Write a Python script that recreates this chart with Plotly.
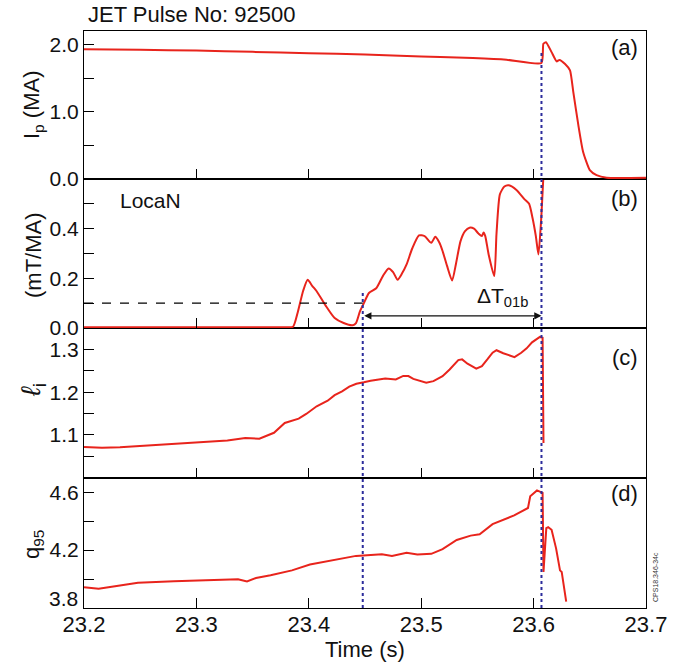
import plotly.graph_objects as go

# ---------------- data ----------------
t_ip = [23.2, 23.25, 23.3, 23.35, 23.4, 23.45, 23.5, 23.517, 23.546, 23.576, 23.607,
        23.6087, 23.611, 23.616, 23.6205, 23.623, 23.628, 23.6324, 23.6353, 23.6398,
        23.644, 23.650, 23.656, 23.665, 23.7]
ip = [1.93, 1.92, 1.91, 1.89, 1.87, 1.85, 1.82, 1.812, 1.797, 1.773, 1.724,
      2.01, 2.034, 1.886, 1.748, 1.77, 1.71, 1.615, 1.294, 0.80,
      0.405, 0.133, 0.059, 0.02, 0.02]

t_loc = [23.2, 23.25, 23.3, 23.35, 23.37, 23.38, 23.386, 23.390, 23.395, 23.399, 23.403,
         23.407, 23.415, 23.423, 23.431, 23.439, 23.442, 23.4455, 23.449, 23.4535, 23.46,
         23.466, 23.471, 23.475, 23.479, 23.483, 23.487, 23.492, 23.498, 23.503, 23.509,
         23.5125, 23.516, 23.519, 23.523, 23.5275, 23.531, 23.535, 23.539, 23.543, 23.547,
         23.551, 23.554, 23.5555, 23.557, 23.560, 23.565, 23.567, 23.570, 23.574, 23.578,
         23.585, 23.592, 23.596, 23.599, 23.602, 23.6043, 23.6065, 23.6088]
loc = [0.003, 0.003, 0.003, 0.003, 0.003, 0.003, 0.005, 0.06, 0.15, 0.194, 0.17,
       0.148, 0.09, 0.040, 0.02, 0.011, 0.02, 0.067, 0.10, 0.141, 0.16,
       0.21, 0.24, 0.225, 0.194, 0.22, 0.256, 0.32, 0.373, 0.37, 0.343,
       0.367, 0.345, 0.31, 0.25, 0.191, 0.26, 0.35, 0.39, 0.404, 0.40,
       0.380, 0.370, 0.385, 0.37, 0.296, 0.209, 0.38, 0.538, 0.57, 0.575,
       0.555, 0.518, 0.50, 0.444, 0.37, 0.296, 0.42, 0.62]

t_li = [23.2, 23.216, 23.232, 23.264, 23.296, 23.3276, 23.3435, 23.356, 23.369, 23.375,
        23.3786, 23.391, 23.3977, 23.407, 23.4168, 23.423, 23.4296, 23.436, 23.4423,
        23.449, 23.455, 23.468, 23.4774, 23.484, 23.4886, 23.493, 23.4997, 23.5045,
        23.5109, 23.519, 23.5253, 23.533, 23.5364, 23.5412, 23.549, 23.554, 23.559,
        23.5635, 23.567, 23.573, 23.583, 23.589, 23.5938, 23.5986, 23.6056, 23.608, 23.6088]
li = [1.072, 1.070, 1.071, 1.076, 1.081, 1.087, 1.093, 1.091, 1.105, 1.120,
      1.128, 1.138, 1.149, 1.167, 1.180, 1.193, 1.202, 1.213, 1.2195,
      1.223, 1.2266, 1.232, 1.2297, 1.238, 1.2375, 1.231, 1.2258, 1.222,
      1.2258, 1.2375, 1.2531, 1.275, 1.2766, 1.2664, 1.255, 1.2609, 1.277,
      1.2922, 1.298, 1.291, 1.282, 1.292, 1.3023, 1.3164, 1.329, 1.327, 1.081]

t_q = [23.2, 23.213, 23.232, 23.248, 23.28, 23.312, 23.337, 23.345, 23.353, 23.366,
       23.385, 23.401, 23.423, 23.442, 23.465, 23.474, 23.487, 23.4966, 23.509, 23.519,
       23.5316, 23.544, 23.552, 23.5635, 23.5827, 23.595, 23.597, 23.603, 23.608, 23.6088,
       23.6113, 23.613, 23.616, 23.620, 23.6235, 23.625, 23.629]
q95 = [3.944, 3.933, 3.956, 3.974, 3.984, 3.991, 3.998, 3.984, 4.007, 4.026,
       4.060, 4.100, 4.135, 4.160, 4.172, 4.160, 4.181, 4.170, 4.174, 4.207,
       4.270, 4.300, 4.309, 4.379, 4.440, 4.491, 4.572, 4.612, 4.595, 4.049,
       4.351, 4.358, 4.340, 4.212, 4.060, 4.049, 3.844]

x_ticks = [23.2, 23.3, 23.4, 23.5, 23.6, 23.7]
x_ticklabels = ["23.2", "23.3", "23.4", "23.5", "23.6", "23.7"]
ip_ticks = [0.0, 0.5, 1.0, 1.5, 2.0]
ip_ticklabels = ["0.0", "", "1.0", "", "2.0"]
loc_ticks = [0.0, 0.1, 0.2, 0.3, 0.4, 0.5]
loc_ticklabels = ["0.0", "", "0.2", "", "0.4", ""]
li_ticks = [1.05, 1.1, 1.15, 1.2, 1.25, 1.3]
li_ticklabels = ["", "1.1", "", "1.2", "", "1.3"]
q_ticks = [3.8, 4.0, 4.2, 4.4, 4.6]
q_ticklabels = ["", "", "4.2", "", "4.6"]

t_onset = 23.448   # LocaN threshold crossing
t_disr = 23.607    # disruption
loc_threshold = 0.1

# ---------------- figure ----------------
RED = "#E8241C"
BLUE = "#2C2C9C"
FONT = "Liberation Sans, Arial, sans-serif"
FS = 22
YFS = 21

fig = go.Figure()
fig.add_trace(go.Scatter(x=t_ip, y=ip, mode="lines",
                         line=dict(color=RED, width=2, shape="spline", smoothing=0.5),
                         xaxis="x4", yaxis="y", showlegend=False))
fig.add_trace(go.Scatter(x=t_loc, y=loc, mode="lines",
                         line=dict(color=RED, width=2, shape="spline", smoothing=0.6),
                         xaxis="x3", yaxis="y2", showlegend=False))
fig.add_trace(go.Scatter(x=t_li, y=li, mode="lines", line=dict(color=RED, width=2),
                         xaxis="x2", yaxis="y3", showlegend=False))
fig.add_trace(go.Scatter(x=t_q, y=q95, mode="lines", line=dict(color=RED, width=2),
                         xaxis="x", yaxis="y4", showlegend=False))

b0, b1, b2, b3 = 0.2258, 0.4853, 0.7435, 1.0

xcommon = dict(range=[23.2, 23.7], tickvals=x_ticks, ticks="inside", ticklen=10,
               tickwidth=1, tickcolor="black", showline=True, linecolor="black",
               linewidth=1.2, mirror=True, showgrid=False, zeroline=False,
               tickfont=dict(size=FS, color="#111", family=FONT))
ycommon = dict(ticks="inside", ticklen=10, tickwidth=1, tickcolor="black",
               showline=True, linecolor="black", linewidth=1.2, mirror=True,
               showgrid=False, zeroline=False,
               tickfont=dict(size=YFS, color="#111", family=FONT))

fig.update_layout(
    width=683, height=664,
    margin=dict(l=84, r=37, t=31, b=56),
    paper_bgcolor="white", plot_bgcolor="white",
    font=dict(family=FONT, color="#111"),
    xaxis=dict(**xcommon, anchor="y4", domain=[0, 1], ticktext=x_ticklabels,
               ticklabelstandoff=-4),
    xaxis2=dict(**xcommon, anchor="y3", domain=[0, 1], matches="x", showticklabels=False),
    xaxis3=dict(**xcommon, anchor="y2", domain=[0, 1], matches="x", showticklabels=False),
    xaxis4=dict(**xcommon, anchor="y", domain=[0, 1], matches="x", showticklabels=False),
    yaxis=dict(**ycommon, anchor="x4", domain=[b2, b3], range=[0, 2.2],
               tickvals=ip_ticks, ticktext=ip_ticklabels),
    yaxis2=dict(**ycommon, anchor="x3", domain=[b1, b2], range=[0, 0.6],
                tickvals=loc_ticks, ticktext=loc_ticklabels),
    yaxis3=dict(**ycommon, anchor="x2", domain=[b0, b1], range=[1.0, 1.35],
                tickvals=li_ticks, ticktext=li_ticklabels),
    yaxis4=dict(**ycommon, anchor="x", domain=[0, b0], range=[3.8, 4.7],
                tickvals=q_ticks, ticktext=q_ticklabels),
)

# threshold dashed line
fig.add_shape(type="line", xref="x3", yref="y2", x0=23.2, x1=t_onset,
              y0=loc_threshold, y1=loc_threshold,
              line=dict(color="black", width=1.3, dash="dash"))
# dotted vertical markers
fig.add_shape(type="line", xref="x", yref="paper", x0=t_onset, x1=t_onset,
              y0=0, y1=0.549, line=dict(color=BLUE, width=2, dash="dot"))
fig.add_shape(type="line", xref="x", yref="paper", x0=t_disr, x1=t_disr,
              y0=0, y1=0.967, line=dict(color=BLUE, width=2, dash="dot"))

# double arrow for Delta T
fig.add_annotation(x=t_disr, y=0.049, ax=t_onset, ay=0.049, xref="x3", yref="y2",
                   axref="x3", ayref="y2", text="", showarrow=True,
                   arrowhead=2, startarrowhead=2, arrowside="end+start",
                   arrowsize=1.2, startarrowsize=1.2, arrowwidth=1.2, arrowcolor="#111")
fig.add_annotation(x=23.572, y=0.125, xref="x3", yref="y2",
                   text="ΔT<sub>01b</sub>", showarrow=False,
                   font=dict(size=21, family=FONT, color="#111"))

ann = [
    dict(x=0.004, y=1.028, xref="paper", yref="paper", text="JET Pulse No: 92500",
         xanchor="left", yanchor="middle", size=FS),
    dict(x=0.989, y=(608 - 48) / 577, xref="paper", yref="paper", text="(a)",
         xanchor="right", yanchor="middle", size=FS),
    dict(x=0.989, y=(608 - 198) / 577, xref="paper", yref="paper", text="(b)",
         xanchor="right", yanchor="middle", size=FS),
    dict(x=0.989, y=(608 - 357) / 577, xref="paper", yref="paper", text="(c)",
         xanchor="right", yanchor="middle", size=FS),
    dict(x=0.989, y=(608 - 493) / 577, xref="paper", yref="paper", text="(d)",
         xanchor="right", yanchor="middle", size=FS),
    dict(x=(118 - 84) / 562, y=(608 - 201) / 577, xref="paper", yref="paper", text="LocaN",
         xanchor="left", yanchor="middle", size=21),
    dict(x=(365 - 84) / 562, y=(608 - 649) / 577, xref="paper", yref="paper", text="Time (s)",
         xanchor="center", yanchor="middle", size=FS),
    dict(x=(80 - 84) / 562, y=(608 - 598) / 577, xref="paper", yref="paper", text="3.8",
         xanchor="right", yanchor="middle", size=YFS),
]
for a in ann:
    s = a.pop("size")
    fig.add_annotation(**a, showarrow=False, font=dict(size=s, family=FONT, color="#111"))

ytitles = [
    ("I<sub>p</sub> (MA)", 105, FS),
    ("(mT/MA)", 255, FS),
    ("<i>ℓ</i><sub>i</sub>", 390, 27),
    ("q<sub>95</sub>", 545, FS),
]
for txt, yy, s in ytitles:
    fig.add_annotation(x=(33 - 84) / 562, y=(608 - yy) / 577, xref="paper", yref="paper",
                       text=txt, textangle=-90, showarrow=False,
                       xanchor="center", yanchor="middle",
                       font=dict(size=s, family=FONT, color="#111"))

fig.add_annotation(x=(655 - 84) / 562, y=(608 - 577) / 577, xref="paper", yref="paper",
                   text="CPS18.346-34c", textangle=-90, showarrow=False,
                   xanchor="center", yanchor="middle",
                   font=dict(size=7, family=FONT, color="#333"))

fig.write_html("out.html")
